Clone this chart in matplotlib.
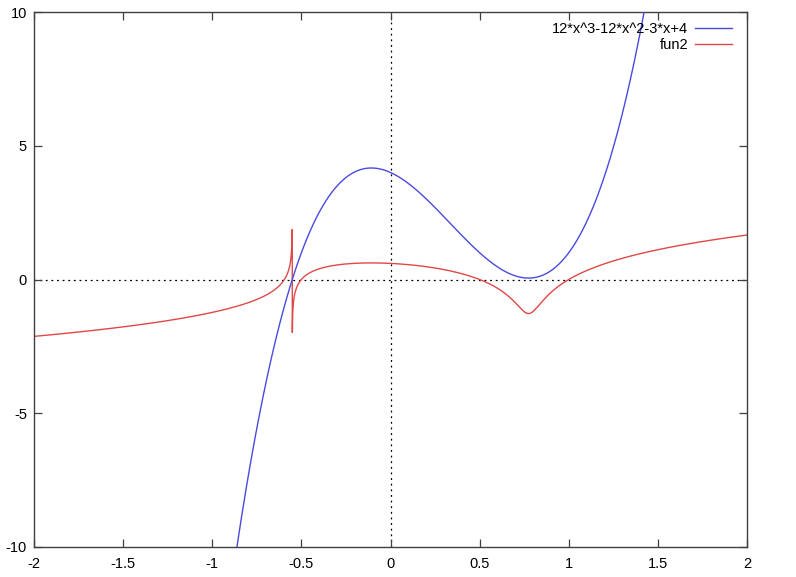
import numpy as np
import matplotlib
matplotlib.use("Agg")
import matplotlib.pyplot as plt

plt.rcParams["font.family"] = ["Liberation Sans", "DejaVu Sans"]

# Data: polynomial coefficients (from legend) and fun2 = sign(p)*log10|p|
coeffs = [12, -12, -3, 4]
label1 = "12*x^3-12*x^2-3*x+4"
label2 = "fun2"
x_range = [-2.0, 2.0]
y_range = [-10.0, 10.0]
spike_top = 1.87      # sampled extreme of fun2 left of the root
spike_bottom = -1.98  # sampled extreme of fun2 right of the root
xticks = [-2, -1.5, -1, -0.5, 0, 0.5, 1, 1.5, 2]
xticklabels = ["-2", "-1.5", "-1", "-0.5", "0", "0.5", "1", "1.5", "2"]
yticks = [-10, -5, 0, 5, 10]
yticklabels = ["-10", "-5", "0", "5", "10"]

x = np.linspace(x_range[0], x_range[1], 20001)
p = np.polyval(coeffs, x)
with np.errstate(divide="ignore"):
    f2 = np.sign(p) * np.log10(np.abs(p))
near_root = np.abs(p) < 1
f2[near_root] = np.clip(f2[near_root], spike_bottom, spike_top)

W, H = 796, 577
fig = plt.figure(figsize=(W / 100, H / 100), dpi=100)
ax = fig.add_axes([34 / W, 1 - 547 / H, (747 - 34) / W, (547 - 12) / H])

ax.axhline(0, color="black", lw=0.9, ls=(0, (1.5, 3)), zorder=1)
ax.axvline(0, color="black", lw=0.9, ls=(0, (1.5, 3)), zorder=1)

ax.plot(x, p, color="#4a4ae0", lw=1.0, label=label1, zorder=3)
ax.plot(x, f2, color="#e04848", lw=1.0, label=label2, zorder=2)

ax.set_xlim(*x_range)
ax.set_ylim(*y_range)
ax.set_xticks(xticks)
ax.set_xticklabels(xticklabels)
ax.set_yticks(yticks)
ax.set_yticklabels(yticklabels)
ax.tick_params(direction="in", length=6, width=0.9, color="#404040",
               top=True, right=True, labelsize=10.5)
ax.tick_params(axis="x", pad=7)
ax.tick_params(axis="y", pad=5)
for s in ax.spines.values():
    s.set_color("#404040")
    s.set_linewidth(1.0)

leg = ax.legend(loc="upper right", frameon=False, markerfirst=False,
                fontsize=10.5, handlelength=2.5, handletextpad=0.5,
                labelspacing=0.12, borderaxespad=0.3,
                bbox_to_anchor=(0.993, 1.0))
for t in leg.get_texts():
    t.set_ha("right")

fig.savefig("out.png", dpi=100)
